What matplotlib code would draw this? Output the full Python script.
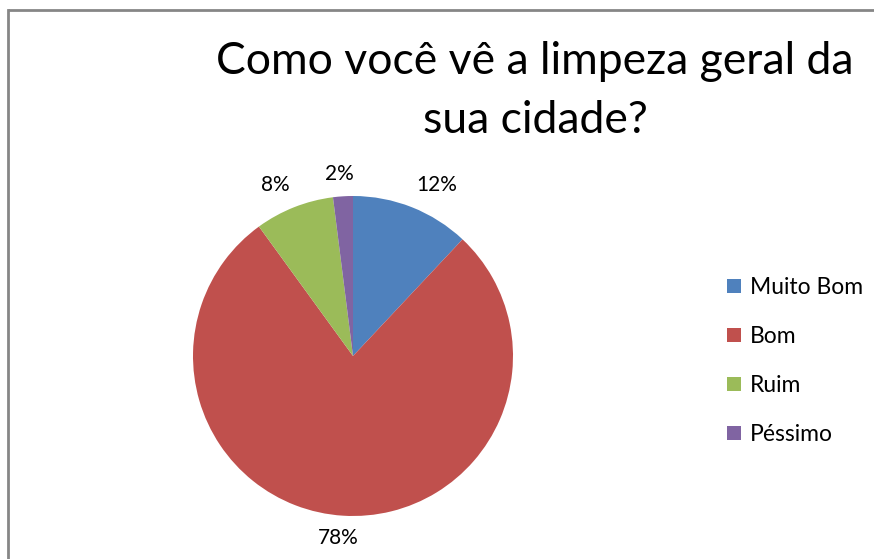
import matplotlib
matplotlib.use("Agg")
import matplotlib.pyplot as plt
import numpy as np
from matplotlib.lines import Line2D
from matplotlib.patches import Patch

plt.rcParams['font.family'] = ['Lato', 'DejaVu Sans']

categories = ['Muito Bom', 'Bom', 'Ruim', 'Péssimo']
values = [12, 78, 8, 2]
colors = ['#4F81BD', '#C0504D', '#9BBB59', '#8064A2']
title = 'Como você vê a limpeza geral da\nsua cidade?'

fig = plt.figure(figsize=(8.74, 5.59), dpi=100)

# chart frame: only the top and left edges fall inside the image
fx, fy = 8 / 874, 1 - 10 / 559
fig.lines.append(Line2D([fx, fx], [0, fy], transform=fig.transFigure,
                        color='#868686', linewidth=2, solid_capstyle='projecting'))
fig.lines.append(Line2D([fx, 1.01], [fy, fy], transform=fig.transFigure,
                        color='#868686', linewidth=2, solid_capstyle='butt'))

# pie axes: center (353, 356), radius 160 px
r = 160
ax = fig.add_axes([(353 - r) / 874, (559 - 356 - r) / 559, 2 * r / 874, 2 * r / 559])
wedges, _ = ax.pie(values, colors=colors, startangle=90, counterclock=False)
ax.set_aspect('auto')
ax.set_xlim(-1, 1)
ax.set_ylim(-1, 1)

# Excel-style outside-end labels: anchor just outside the rim, box pushed outward
renderer = fig.canvas.get_renderer()
for w, v in zip(wedges, values):
    theta = np.deg2rad((w.theta1 + w.theta2) / 2)
    c, s = np.cos(theta), np.sin(theta)
    t = ax.annotate(f'{v}%', xy=(1.08 * c, 1.08 * s), ha='center', va='center',
                    fontsize=15, textcoords='offset pixels', xytext=(0, 0),
                    annotation_clip=False)
    bb = t.get_window_extent(renderer)
    t.xyann = (bb.width / 2 * np.clip(3 * c, -1, 1),
               bb.height / 2 * np.clip(3 * s, -1, 1))

fig.text(535 / 874, 1 - 91 / 559, title, ha='center', va='center',
         fontsize=32, linespacing=1.55)

handles = [Patch(facecolor=c, edgecolor='none') for c in colors]
fig.legend(handles, categories, loc='center left', bbox_to_anchor=(727 / 874, 1 - 361 / 559),
           frameon=False, fontsize=16.5, handlelength=0.6, handleheight=0.6,
           handletextpad=0.4, labelspacing=1.22, borderpad=0, borderaxespad=0)

fig.savefig('out.png', dpi=100)
plt.close(fig)
